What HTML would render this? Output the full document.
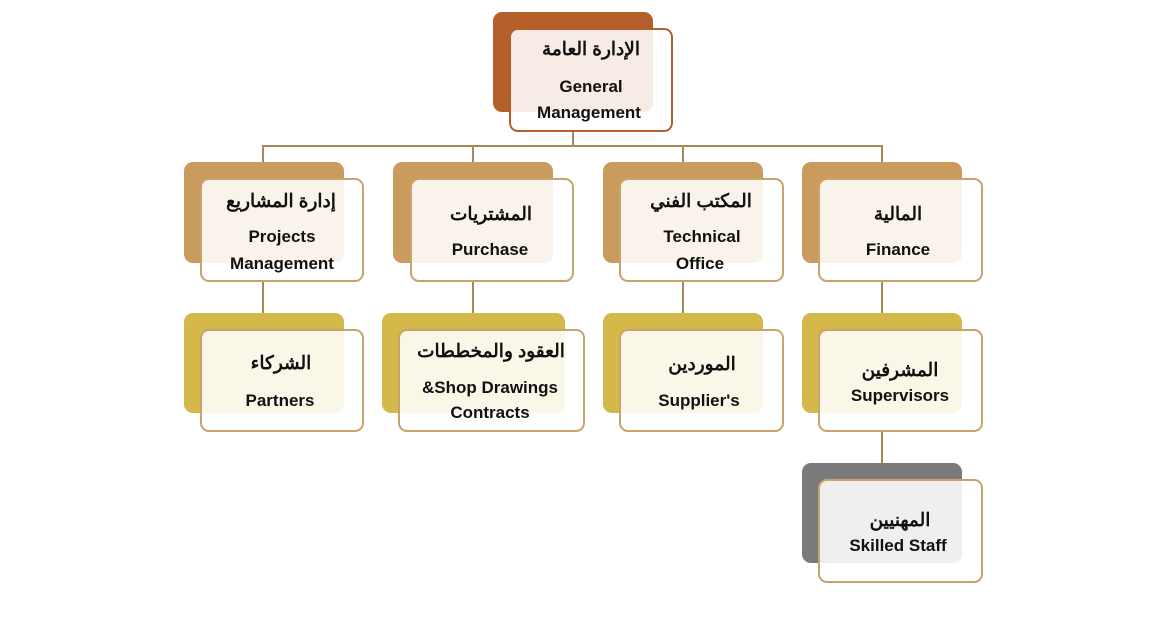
<!DOCTYPE html>
<html><head><meta charset="utf-8"><style>
body{margin:0;width:1150px;height:628px;background:#fff;position:relative;overflow:hidden;font-family:"Liberation Sans","Noto Sans CJK SC",sans-serif;}
.b{position:absolute;border-radius:9px;}
.f{position:absolute;border-radius:9px;border:2px solid #c9a36c;background:rgba(255,255,255,0.88);box-sizing:border-box;}
.l{position:absolute;background:#a88a5a;}
.t{position:absolute;width:260px;height:22px;line-height:22px;text-align:center;font-weight:bold;font-size:17px;color:#111;white-space:nowrap;}
.a{font-size:18.5px;}
</style></head><body>
<div class="l" style="left:572px;top:131px;width:2px;height:16px"></div>
<div class="l" style="left:263px;top:145px;width:620px;height:2px"></div>
<div class="l" style="left:262px;top:145px;width:2px;height:18px"></div>
<div class="l" style="left:472px;top:145px;width:2px;height:18px"></div>
<div class="l" style="left:682px;top:145px;width:2px;height:18px"></div>
<div class="l" style="left:881px;top:145px;width:2px;height:18px"></div>
<div class="l" style="left:262px;top:281px;width:2px;height:32px"></div>
<div class="l" style="left:472px;top:281px;width:2px;height:32px"></div>
<div class="l" style="left:682px;top:281px;width:2px;height:32px"></div>
<div class="l" style="left:881px;top:281px;width:2px;height:32px"></div>
<div class="l" style="left:881px;top:431px;width:2px;height:32px"></div>
<div class="b" style="left:493px;top:12px;width:160px;height:100px;background:#b5602b"></div>
<div class="f" style="left:509px;top:28px;width:164px;height:104px;border-color:#b5602b"></div>
<div class="b" style="left:184px;top:162px;width:160px;height:101px;background:#c99c5e"></div>
<div class="f" style="left:200px;top:178px;width:164px;height:104px"></div>
<div class="b" style="left:393px;top:162px;width:160px;height:101px;background:#c99c5e"></div>
<div class="f" style="left:410px;top:178px;width:164px;height:104px"></div>
<div class="b" style="left:603px;top:162px;width:160px;height:101px;background:#c99c5e"></div>
<div class="f" style="left:619px;top:178px;width:165px;height:104px"></div>
<div class="b" style="left:802px;top:162px;width:160px;height:101px;background:#c99c5e"></div>
<div class="f" style="left:818px;top:178px;width:165px;height:104px"></div>
<div class="b" style="left:184px;top:313px;width:160px;height:100px;background:#d4b84a"></div>
<div class="f" style="left:200px;top:329px;width:164px;height:103px"></div>
<div class="b" style="left:382px;top:313px;width:183px;height:100px;background:#d4b84a"></div>
<div class="f" style="left:398px;top:329px;width:187px;height:103px"></div>
<div class="b" style="left:603px;top:313px;width:160px;height:100px;background:#d4b84a"></div>
<div class="f" style="left:619px;top:329px;width:165px;height:103px"></div>
<div class="b" style="left:802px;top:313px;width:160px;height:100px;background:#d4b84a"></div>
<div class="f" style="left:818px;top:329px;width:165px;height:103px"></div>
<div class="b" style="left:802px;top:463px;width:160px;height:100px;background:#7a7a7a"></div>
<div class="f" style="left:818px;top:479px;width:165px;height:104px"></div>

<div class="t a" style="left:461px;top:38px">الإدارة العامة</div>
<div class="t" style="left:461px;top:76px">General</div>
<div class="t" style="left:459px;top:102px">Management</div>

<div class="t a" style="left:151px;top:190px">إدارة المشاريع</div>
<div class="t" style="left:152px;top:226px">Projects</div>
<div class="t" style="left:152px;top:253px">Management</div>

<div class="t a" style="left:361px;top:203px">المشتريات</div>
<div class="t" style="left:360px;top:239px">Purchase</div>

<div class="t a" style="left:571px;top:190px">المكتب الفني</div>
<div class="t" style="left:572px;top:226px">Technical</div>
<div class="t" style="left:570px;top:253px">Office</div>

<div class="t a" style="left:768px;top:203px">المالية</div>
<div class="t" style="left:768px;top:239px">Finance</div>

<div class="t a" style="left:151px;top:352px">الشركاء</div>
<div class="t" style="left:150px;top:390px">Partners</div>

<div class="t a" style="left:361px;top:340px">العقود والمخططات</div>
<div class="t" style="left:360px;top:377px">&amp;Shop Drawings</div>
<div class="t" style="left:360px;top:402px">Contracts</div>

<div class="t a" style="left:572px;top:353px">الموردين</div>
<div class="t" style="left:569px;top:390px">Supplier's</div>

<div class="t a" style="left:770px;top:359px">المشرفين</div>
<div class="t" style="left:770px;top:385px">Supervisors</div>

<div class="t a" style="left:770px;top:509px">المهنيين</div>
<div class="t" style="left:768px;top:535px">Skilled Staff</div>
</body></html>
